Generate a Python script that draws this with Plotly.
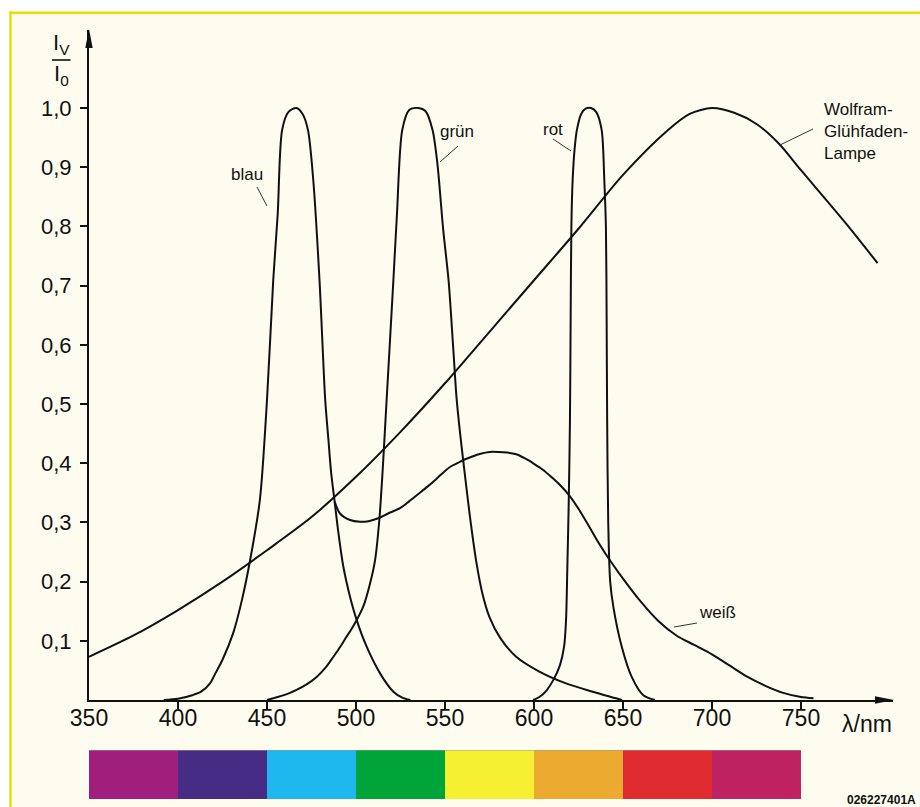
import plotly.graph_objects as go

# ---------------- data ----------------
blau_x = [392, 400, 408, 413, 418, 421, 425, 431, 436, 440.5, 446, 450, 453.5, 456, 458.5, 462, 466.5,
          470, 473, 476, 479.5, 482.7, 484.5, 486, 488, 490, 492.9, 496.6, 500.4, 506, 513.5, 521, 526, 530.5]
blau_y = [0, 0.002, 0.008, 0.014, 0.028, 0.045, 0.068, 0.113, 0.17, 0.236, 0.338, 0.507, 0.709, 0.82, 0.963, 0.993, 1.0,
          0.99, 0.963, 0.878, 0.709, 0.507, 0.44, 0.385, 0.335, 0.285, 0.225, 0.175, 0.135, 0.09, 0.045, 0.014, 0.004, 0]

gruen_x = [450, 456, 462.9, 466.6, 472, 477.9, 483, 487.3, 491, 494.7, 497.5, 500.4, 504.1, 507.9, 510.7, 513.1, 515,
           517.2, 521, 523, 526, 530, 535, 539, 543, 545.7, 549, 552, 554.5, 556.5, 558.5, 561, 564, 567.5, 571, 575,
           581, 590, 603, 618, 633, 646, 649.5]
gruen_y = [0, 0.005, 0.012, 0.017, 0.026, 0.039, 0.055, 0.073, 0.089, 0.107, 0.12, 0.135, 0.158, 0.197, 0.236, 0.304, 0.389,
           0.507, 0.709, 0.82, 0.963, 0.997, 1.0, 0.995, 0.963, 0.907, 0.794, 0.709, 0.6, 0.51, 0.45, 0.385, 0.31, 0.235, 0.18, 0.14,
           0.105, 0.073, 0.048, 0.028, 0.014, 0.003, 0]

rot_x = [599.5, 603.4, 607, 610.9, 614.6, 616.9, 618, 618.7, 619.5, 620.2, 620.6, 621, 621.7, 622.8, 624.1, 626.5, 629, 632,
         635, 638, 639.5, 640.4, 640.8, 641.1, 641.7, 642.8, 644.6, 649.3, 654.9, 661.4, 668]
rot_y = [0, 0.006, 0.016, 0.034, 0.059, 0.09, 0.135, 0.22, 0.332, 0.473, 0.65, 0.8, 0.878, 0.93, 0.963, 0.99, 0.999, 1.0,
         0.993, 0.963, 0.878, 0.8, 0.65, 0.473, 0.3, 0.2, 0.157, 0.09, 0.039, 0.008, 0]

wolfram_x = [350, 375, 400, 425, 450, 475, 500, 525, 550, 575, 600, 625, 650, 675, 687.5, 700, 712.5, 725, 737.5, 750,
             775, 793]
wolfram_y = [0.073, 0.109, 0.152, 0.2, 0.253, 0.309, 0.377, 0.453, 0.535, 0.622, 0.709, 0.796, 0.887, 0.962, 0.99, 1.0,
             0.992, 0.973, 0.94, 0.895, 0.806, 0.738]

weiss_x = [488, 491, 496.6, 502.2, 507, 512.5, 518, 524.7, 530, 535, 540, 545, 550, 553, 557, 560, 565, 570, 575, 580, 585,
           590, 595, 600, 605, 610, 615, 620, 625, 630, 635, 640, 645, 650, 660, 670, 680, 690, 700, 710, 720, 730, 740, 750, 757]
weiss_y = [0.335, 0.315, 0.304, 0.301, 0.302, 0.307, 0.315, 0.324, 0.336, 0.348, 0.36, 0.373, 0.387, 0.394, 0.4, 0.405, 0.411, 0.416, 0.419, 0.419, 0.418,
           0.415, 0.408, 0.399, 0.389, 0.376, 0.362, 0.345, 0.323, 0.298, 0.272, 0.248, 0.226, 0.205, 0.166, 0.133, 0.109, 0.093, 0.077, 0.058, 0.039, 0.024, 0.012, 0.005, 0.003]

x_ticks = [350, 400, 450, 500, 550, 600, 650, 700, 750]
x_ticklabels = ["350", "400", "450", "500", "550", "600", "650", "700", "750"]
y_ticks = [0.1, 0.2, 0.3, 0.4, 0.5, 0.6, 0.7, 0.8, 0.9, 1.0]
y_ticklabels = ["0,1", "0,2", "0,3", "0,4", "0,5", "0,6", "0,7", "0,8", "0,9", "1,0"]

band_starts = [350, 400, 450, 500, 550, 600, 650, 700]
band_width = 50
band_colors = ["#A01E7C", "#472C85", "#1EB8EF", "#00A53A", "#F5F032", "#EDAA30", "#E02C30", "#BE2260"]

# ---------------- layout geometry ----------------
W, H = 920, 807
ML, MR, MT, MB = 89, 27, 30, 0
PW, PH = W - ML - MR, H - MT - MB
PX_PER_NM = 1.78
PX_PER_UNIT = 592.0
Y0_PX = 700
X_MAX = 350 + PW / PX_PER_NM
Y_MAX = (Y0_PX - MT) / PX_PER_UNIT


def dx(px):
    return 350 + (px - ML) / PX_PER_NM


def dy(py):
    return (Y0_PX - py) / PX_PER_UNIT


def pxp(px):
    return (px - ML) / PW


def pyp(py):
    return (H - py) / PH


FONT = "Liberation Sans, Arial, Helvetica, sans-serif"
INK = "#111111"
CREAM = "#FEFCEF"
YELLOW = "#E6DF00"

fig = go.Figure()

line = dict(color=INK, width=2, shape="spline", smoothing=0.8)
for name, xs, ys in [("blau", blau_x, blau_y), ("grün", gruen_x, gruen_y), ("rot", rot_x, rot_y),
                     ("Wolfram", wolfram_x, wolfram_y), ("weiß", weiss_x, weiss_y)]:
    fig.add_trace(go.Scatter(x=xs, y=ys, mode="lines", line=line, name=name,
                             hoverinfo="skip", showlegend=False, xaxis="x", yaxis="y"))

# colour spectrum band
fig.add_trace(go.Bar(x=[s + band_width / 2 for s in band_starts], y=[1] * len(band_starts),
                     width=[band_width] * len(band_starts), marker=dict(color=band_colors, line=dict(width=0)),
                     xaxis="x2", yaxis="y2", showlegend=False, hoverinfo="skip"))

# invisible trace that carries the x tick labels axis
fig.add_trace(go.Scatter(x=[350], y=[0], mode="markers", marker=dict(opacity=0), xaxis="x3", yaxis="y",
                         showlegend=False, hoverinfo="skip"))

shapes = []
# frame: white outside strips + yellow border lines
shapes.append(dict(type="rect", xref="paper", yref="paper", x0=pxp(0), x1=pxp(W), y0=pyp(0), y1=pyp(11.6),
                   fillcolor="white", line=dict(width=0), layer="above"))
shapes.append(dict(type="rect", xref="paper", yref="paper", x0=pxp(0), x1=pxp(9.3), y0=pyp(0), y1=pyp(H),
                   fillcolor="white", line=dict(width=0), layer="above"))
shapes.append(dict(type="line", xref="paper", yref="paper", x0=pxp(9.3), x1=pxp(W), y0=pyp(12.8), y1=pyp(12.8),
                   line=dict(color=YELLOW, width=2.4)))
shapes.append(dict(type="line", xref="paper", yref="paper", x0=pxp(10.5), x1=pxp(10.5), y0=pyp(11.6), y1=pyp(H),
                   line=dict(color=YELLOW, width=2.4)))
# arrowheads
shapes.append(dict(type="path", xref="paper", yref="paper",
                   path=f"M {pxp(89)},{pyp(29)} L {pxp(85.3)},{pyp(48)} L {pxp(92.7)},{pyp(48)} Z",
                   fillcolor=INK, line=dict(width=0)))
shapes.append(dict(type="path", xref="paper", yref="paper",
                   path=f"M {pxp(894)},{pyp(700)} L {pxp(875)},{pyp(696.3)} L {pxp(875)},{pyp(703.7)} Z",
                   fillcolor=INK, line=dict(width=0)))
# fraction line of y-axis label
shapes.append(dict(type="line", xref="paper", yref="paper", x0=pxp(52), x1=pxp(70.5), y0=pyp(60), y1=pyp(60),
                   line=dict(color=INK, width=1.6)))
# top grey edge of spectrum band
shapes.append(dict(type="line", xref="x2", yref="y2", x0=band_starts[0], x1=band_starts[-1] + band_width,
                   y0=1, y1=1, line=dict(color="#9A9A9A", width=1.2)))
# leader lines
leaders = [((257, 187), (267, 206)),   # blau
           ((458, 146), (440, 162)),   # grün
           ((553, 139), (571, 151)),   # rot
           ((813, 129), (780, 145)),   # Wolfram
           ((697, 623), (674, 627))]   # weiß
for (xa, ya), (xb, yb) in leaders:
    shapes.append(dict(type="line", xref="x", yref="y", x0=dx(xa), y0=dy(ya), x1=dx(xb), y1=dy(yb),
                       line=dict(color="#333333", width=1)))

annotations = []


def lab(text, px, py, size=17, xanchor="center", yanchor="middle", align="center", bold=False, ref="data"):
    if ref == "data":
        x, y, xr, yr = dx(px), dy(py), "x", "y"
    else:
        x, y, xr, yr = pxp(px), pyp(py), "paper", "paper"
    annotations.append(dict(text=f"<b>{text}</b>" if bold else text, x=x, y=y, xref=xr, yref=yr,
                            xanchor=xanchor, yanchor=yanchor, align=align, showarrow=False,
                            font=dict(family=FONT, size=size, color=INK)))


lab("blau", 247, 174)
lab("grün", 457, 131)
lab("rot", 553, 129)
lab("weiß", 717, 612)
lab("Wolfram-<br>Glühfaden-<br>Lampe", 822, 131, size=17, xanchor="left", align="left")
lab("λ/nm", 867, 724, size=23, ref="paper")
lab("026227401A", 881, 800, size=12, bold=True, ref="paper")
lab("I<sub>V</sub>", 61, 44, size=22, ref="paper")
lab("I<sub>0</sub>", 61, 75, size=22, ref="paper")

fig.update_layout(
    width=W, height=H,
    margin=dict(l=ML, r=MR, t=MT, b=MB, autoexpand=False),
    paper_bgcolor=CREAM, plot_bgcolor="rgba(0,0,0,0)",
    showlegend=False, hovermode=False,
    font=dict(family=FONT, size=22, color=INK),
    xaxis=dict(range=[350, X_MAX], domain=[0, 1], showgrid=False, zeroline=False,
               showline=True, linecolor=INK, linewidth=2, anchor="y",
               tickmode="array", tickvals=x_ticks[1:], showticklabels=False,
               ticks="outside", ticklen=7, tickwidth=1.6, tickcolor=INK),
    xaxis3=dict(range=[350, X_MAX], overlaying="x", anchor="y", side="bottom", showgrid=False,
                zeroline=False, showline=False, ticks="",
                tickmode="array", tickvals=x_ticks, ticktext=x_ticklabels,
                tickfont=dict(family=FONT, size=23, color=INK), ticklabelstandoff=2),
    yaxis=dict(range=[0, Y_MAX], domain=[pyp(Y0_PX), 1], showgrid=False, zeroline=False,
               showline=True, linecolor=INK, linewidth=2, anchor="x",
               tickmode="array", tickvals=y_ticks, ticktext=y_ticklabels,
               ticks="outside", ticklen=7, tickwidth=1.6, tickcolor=INK,
               tickfont=dict(family=FONT, size=22, color=INK), ticklabelstandoff=4),
    xaxis2=dict(range=[350, X_MAX], domain=[0, 1], visible=False, anchor="y2"),
    yaxis2=dict(range=[0, 1], domain=[pyp(799), pyp(750)], visible=False, anchor="x2"),
    shapes=shapes, annotations=annotations,
)

fig.write_html("out.html", config={"displayModeBar": False},
               post_script="document.body.style.margin='0';document.body.style.overflow='hidden';")
